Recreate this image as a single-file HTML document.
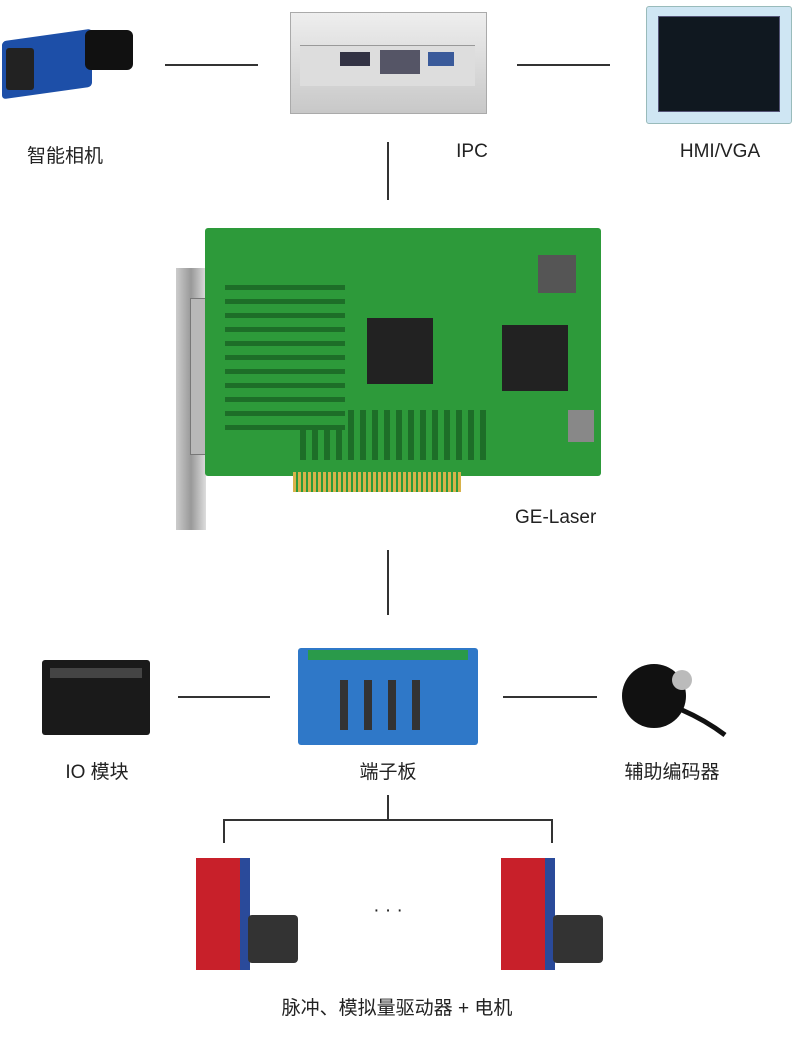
<!DOCTYPE html>
<html><head><meta charset="utf-8"><style>
body{margin:0;width:800px;height:1039px;background:#fff;position:relative;overflow:hidden;font-family:"Liberation Sans","Noto Sans CJK SC",sans-serif;color:#222}
.a{position:absolute}
.l{position:absolute;background:#333}
.t{position:absolute;font-size:19px;transform:translateX(-50%);white-space:nowrap}
</style></head><body>
<!-- camera -->
<div class="a" style="left:2px;top:35px;width:90px;height:58px;background:#1d4fa8;border-radius:4px;transform:skewY(-8deg)"></div>
<div class="a" style="left:6px;top:48px;width:28px;height:42px;background:#222;border-radius:3px"></div>
<div class="a" style="left:85px;top:30px;width:48px;height:40px;background:#111;border-radius:6px"></div>
<!-- lines top -->
<div class="l" style="left:165px;top:64px;width:93px;height:2px"></div>
<div class="l" style="left:517px;top:64px;width:93px;height:2px"></div>
<!-- IPC -->
<div class="a" style="left:290px;top:12px;width:195px;height:100px;background:linear-gradient(#eee,#c8c8c8);border:1px solid #aaa"></div>
<div class="a" style="left:300px;top:45px;width:175px;height:40px;background:#ddd;border-top:1px solid #999"></div>
<div class="a" style="left:340px;top:52px;width:30px;height:14px;background:#334"></div>
<div class="a" style="left:380px;top:50px;width:40px;height:24px;background:#556"></div>
<div class="a" style="left:428px;top:52px;width:26px;height:14px;background:#3a5a9a"></div>
<!-- HMI -->
<div class="a" style="left:646px;top:6px;width:144px;height:116px;background:#cfe6f3;border:1px solid #9bb;border-radius:3px"></div>
<div class="a" style="left:658px;top:16px;width:120px;height:94px;background:#101820;border:1px solid #557"></div>
<div class="t" style="left:65px;top:141px">智能相机</div>
<div class="t" style="left:472px;top:141px">IPC</div>
<div class="t" style="left:720px;top:141px">HMI/VGA</div>
<div class="l" style="left:387px;top:142px;width:2px;height:58px"></div>
<!-- board -->
<div class="a" style="left:176px;top:268px;width:30px;height:262px;background:linear-gradient(90deg,#ccc,#999,#ddd)"></div>
<div class="a" style="left:190px;top:298px;width:32px;height:155px;background:#b8b8b8;border:1px solid #777"></div>
<div class="a" style="left:205px;top:228px;width:396px;height:248px;background:#2d9a3a;border-radius:3px"></div>
<div class="a" style="left:293px;top:472px;width:168px;height:20px;background:repeating-linear-gradient(90deg,#d8b24a 0 3px,#2d9a3a 3px 5px)"></div>
<div class="a" style="left:367px;top:318px;width:66px;height:66px;background:#222"></div>
<div class="a" style="left:502px;top:325px;width:66px;height:66px;background:#222"></div>
<div class="a" style="left:538px;top:255px;width:38px;height:38px;background:#555"></div>
<div class="a" style="left:568px;top:410px;width:26px;height:32px;background:#888"></div>
<div class="a" style="left:300px;top:410px;width:190px;height:50px;background:repeating-linear-gradient(90deg,#1d6e28 0 6px,#2d9a3a 6px 12px)"></div>
<div class="a" style="left:225px;top:280px;width:120px;height:150px;background:repeating-linear-gradient(0deg,#1d6e28 0 5px,#2d9a3a 5px 14px)"></div>
<div class="a" style="left:515px;top:507px;font-size:19px">GE-Laser</div>
<div class="l" style="left:387px;top:550px;width:2px;height:65px"></div>
<!-- IO -->
<div class="a" style="left:42px;top:660px;width:108px;height:75px;background:#1a1a1a;border-radius:3px"></div>
<div class="a" style="left:50px;top:668px;width:92px;height:10px;background:#444"></div>
<div class="l" style="left:178px;top:696px;width:92px;height:2px"></div>
<!-- terminal -->
<div class="a" style="left:298px;top:648px;width:180px;height:97px;background:#2f78c8;border-radius:3px"></div>
<div class="a" style="left:308px;top:650px;width:160px;height:10px;background:#2a9a4a"></div>
<div class="a" style="left:340px;top:680px;width:90px;height:50px;background:repeating-linear-gradient(90deg,#333 0 8px,transparent 8px 24px)"></div>
<div class="l" style="left:503px;top:696px;width:94px;height:2px"></div>
<!-- encoder -->
<div class="a" style="left:622px;top:664px;width:64px;height:64px;background:#111;border-radius:50%"></div>
<div class="a" style="left:672px;top:670px;width:20px;height:20px;background:#bbb;border-radius:50%"></div>
<svg class="a" style="left:680px;top:700px" width="50" height="40"><path d="M2 10 Q25 20 45 35" stroke="#111" stroke-width="5" fill="none"/></svg>
<div class="t" style="left:97px;top:757px">IO 模块</div>
<div class="t" style="left:388px;top:757px">端子板</div>
<div class="t" style="left:672px;top:757px">辅助编码器</div>
<!-- tree -->
<div class="l" style="left:387px;top:795px;width:2px;height:26px"></div>
<div class="l" style="left:223px;top:819px;width:330px;height:2px"></div>
<div class="l" style="left:223px;top:819px;width:2px;height:24px"></div>
<div class="l" style="left:551px;top:819px;width:2px;height:24px"></div>
<!-- drives -->
<div class="a" style="left:196px;top:858px;width:44px;height:112px;background:#c8202a;border-right:10px solid #2a4a9a"></div>
<div class="a" style="left:248px;top:915px;width:50px;height:48px;background:#333;border-radius:4px"></div>
<div class="a" style="left:501px;top:858px;width:44px;height:112px;background:#c8202a;border-right:10px solid #2a4a9a"></div>
<div class="a" style="left:553px;top:915px;width:50px;height:48px;background:#333;border-radius:4px"></div>
<div class="t" style="left:388px;top:900px">· · ·</div>
<div class="t" style="left:397px;top:993px">脉冲、模拟量驱动器 + 电机</div>
</body></html>
